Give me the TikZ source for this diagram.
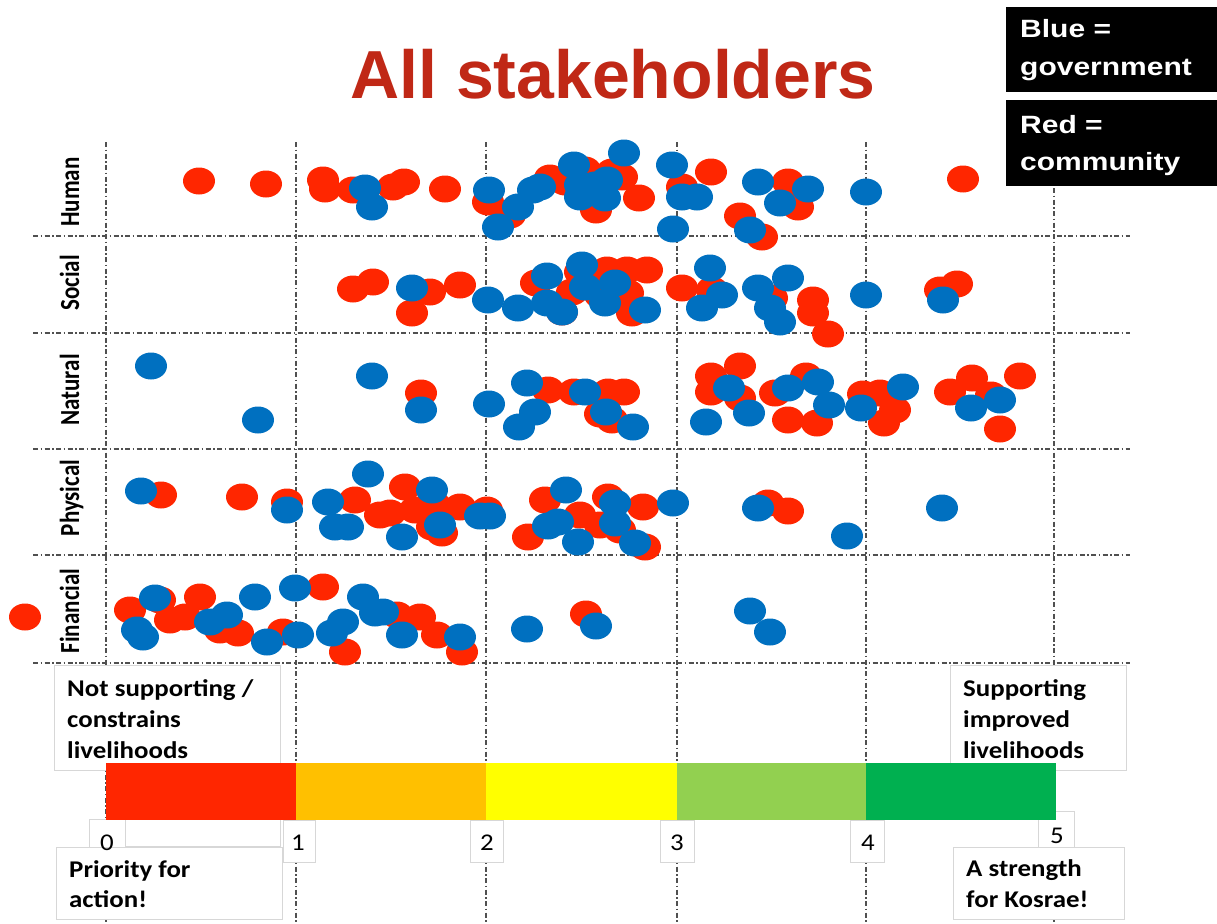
\documentclass[tikz,border=0pt]{standalone}
\usepackage{fontspec}
\newfontfamily\titlefont{Liberation Sans}
\newfontfamily\legfont[FakeStretch=1.2]{Liberation Sans}
\newfontfamily\labfont[FakeStretch=1.12]{Carlito}
\newfontfamily\rowfont{Carlito}
\definecolor{dotred}{RGB}{255,38,0}
\definecolor{dotblue}{RGB}{0,112,192}
\definecolor{titlec}{RGB}{192,40,22}
\definecolor{gridc}{RGB}{80,80,80}
\definecolor{boxc}{RGB}{215,215,215}
\definecolor{barred}{RGB}{255,38,0}
\definecolor{barorange}{RGB}{255,192,0}
\definecolor{baryellow}{RGB}{255,255,0}
\definecolor{barlgreen}{RGB}{146,208,80}
\definecolor{bargreen}{RGB}{0,176,80}
\newcommand\rowtxt[1]{\scalebox{1}[1.2]{#1}}
\begin{document}
\begin{tikzpicture}[x=1pt,y=-1pt,
  gridline/.style={draw=gridc, line width=1.8pt, dash pattern=on 5pt off 2.5pt on 1.5pt off 2.5pt},
  lbox/.style={fill=white, draw=boxc, line width=0.8pt},
  lab/.style={font=\labfont\bfseries\fontsize{24}{28}\selectfont, inner sep=0pt, anchor=base west},
  num/.style={font=\labfont\fontsize{24}{28}\selectfont, inner sep=0pt, anchor=base},
  rowlab/.style={font=\rowfont\bfseries\fontsize{23}{28}\selectfont, inner sep=0pt, rotate=90, anchor=base},
  leg/.style={font=\legfont\bfseries\fontsize{25}{30}\selectfont, text=white, inner sep=0pt, anchor=base west}]
\useasboundingbox (0,0) rectangle (1217,923);
\fill[white] (0,0) rectangle (1217,923);

% grid
\foreach \gx in {106,296,486,677,866,1054}
  \draw[gridline] (\gx,142) -- (\gx,923);
\foreach \gy in {236,333,449,555,663}
  \draw[gridline] (33,\gy) -- (1130,\gy);

% red dots
\foreach \x/\y in {199/181,266/184,323/180,325/189,353/190,393/187,404/182,445/189,488/202,510/215,550/178,565/182,585/170,596/210,612/172,622/177,600/190,639/198,682/187,711/172,788/182,798/207,740/216,762/237,963/179,
353/289,373/282,430/292,460/285,412/313,536/283,572/292,580/272,562/312,607/270,627/270,647/270,600/295,628/293,632/313,682/288,712/290,772/298,813/300,813/313,828/334,940/290,957/284,
421/393,548/390,574/392,608/392,624/392,600/414,612/420,711/376,740/366,711/392,740/398,775/393,806/376,788/420,817/423,863/394,880/393,895/410,884/423,950/392,972/378,991/395,1000/429,1020/376,
161/495,242/497,287/502,355/500,380/515,405/487,390/513,415/510,435/505,460/507,432/527,442/533,487/510,528/537,545/500,580/515,600/525,620/530,608/497,643/507,645/547,768/503,788/511,
25/617,130/610,160/600,170/620,200/597,185/617,220/630,238/633,283/632,323/587,345/652,397/615,420/617,437/635,462/652,586/614}
  \fill[dotred] (\x,\y) ellipse [x radius=16pt, y radius=13.5pt];

% blue dots
\foreach \x/\y in {365/188,372/207,489/190,498/227,518/207,533/190,540/187,574/165,580/185,580/197,595/185,605/198,607/180,624/153,672/165,682/197,697/197,673/229,758/182,780/203,808/189,750/230,866/192,
412/288,488/300,518/308,547/276,547/303,562/312,582/265,585/287,605/303,615/283,645/310,710/268,722/295,702/308,758/288,788/278,770/308,780/322,866/295,943/300,
151/366,258/420,372/376,421/410,489/404,527/383,585/392,535/412,519/427,606/412,633/427,706/422,729/388,749/413,788/388,818/382,829/405,861/408,903/387,971/408,1000/400,
141/491,287/510,328/502,368/474,335/527,348/527,432/490,440/525,402/537,480/516,490/516,566/490,548/526,558/522,578/542,615/503,615/523,635/543,673/503,758/508,847/536,942/508,
155/598,137/630,143/637,210/622,227/615,255/597,267/642,295/588,298/635,332/633,343/622,363/597,375/613,383/612,402/635,460/637,527/629,596/626,750/611,770/632}
  \fill[dotblue] (\x,\y) ellipse [x radius=16pt, y radius=13.5pt];

% title
\node[font=\titlefont\bfseries\fontsize{68}{80}\selectfont, text=titlec, anchor=base, inner sep=0pt] (title) at (613,99) {All stakeholders};

% legend
\fill[black] (1006,7) rectangle (1217,92);
\fill[black] (1006,100) rectangle (1217,186);
\node[leg] (leg1a) at (1020,38) {Blue =};
\node[leg] (leg1b) at (1020,76) {government};
\node[leg] (leg2a) at (1020,133) {Red =};
\node[leg] (leg2b) at (1020,170) {community};

% row labels
\node[rowlab] (rhuman) at (79,192) {\rowtxt{Human}};
\node[rowlab] (rsocial) at (79,283) {\rowtxt{Social}};
\node[rowlab] (rnatural) at (79,390) {\rowtxt{Natural}};
\node[rowlab] (rphysical) at (79,498) {\rowtxt{Physical}};
\node[rowlab] (rfinancial) at (79,611) {\rowtxt{Financial}};

% label boxes
\draw[lbox] (54,665) rectangle (280,770);
\draw[lbox] (950,665) rectangle (1126,770);
\draw[lbox] (125,800) rectangle (280,846);
\draw[lbox] (89,819) rectangle (125,848);
\draw[lbox] (56,847) rectangle (282,919);
\draw[lbox] (953,847) rectangle (1124,919);
\draw[lbox] (283,820) rectangle (315,862);
\draw[lbox] (470,820) rectangle (503,862);
\draw[lbox] (660,820) rectangle (694,862);
\draw[lbox] (850,820) rectangle (884,862);
\draw[lbox] (1038,811) rectangle (1074,847);

% colour bar
\fill[barred] (106,763) rectangle (296,820);
\fill[barorange] (296,763) rectangle (486,820);
\fill[baryellow] (486,763) rectangle (677,820);
\fill[barlgreen] (677,763) rectangle (866,820);
\fill[bargreen] (866,763) rectangle (1056,820);

% texts
\node[lab] (ns1) at (67,696) {Not supporting /};
\node[lab] (ns2) at (67,727) {constrains};
\node[lab] (ns3) at (67,758) {livelihoods};
\node[lab] (sp1) at (963,696) {Supporting};
\node[lab] (sp2) at (963,727) {improved};
\node[lab] (sp3) at (963,758) {livelihoods};
\node[lab] (pr1) at (69,877) {Priority for};
\node[lab] (pr2) at (69,907) {action!};
\node[lab] (st1) at (966,876) {A strength};
\node[lab] (st2) at (966,907) {for Kosrae!};

\node[num] (n0) at (107,850) {0};
\node[num] (n1) at (298,850) {1};
\node[num] (n2) at (487,850) {2};
\node[num] (n3) at (677,850) {3};
\node[num] (n4) at (868,850) {4};
\node[num] (n5) at (1057,843) {5};
\end{tikzpicture}
\end{document}
